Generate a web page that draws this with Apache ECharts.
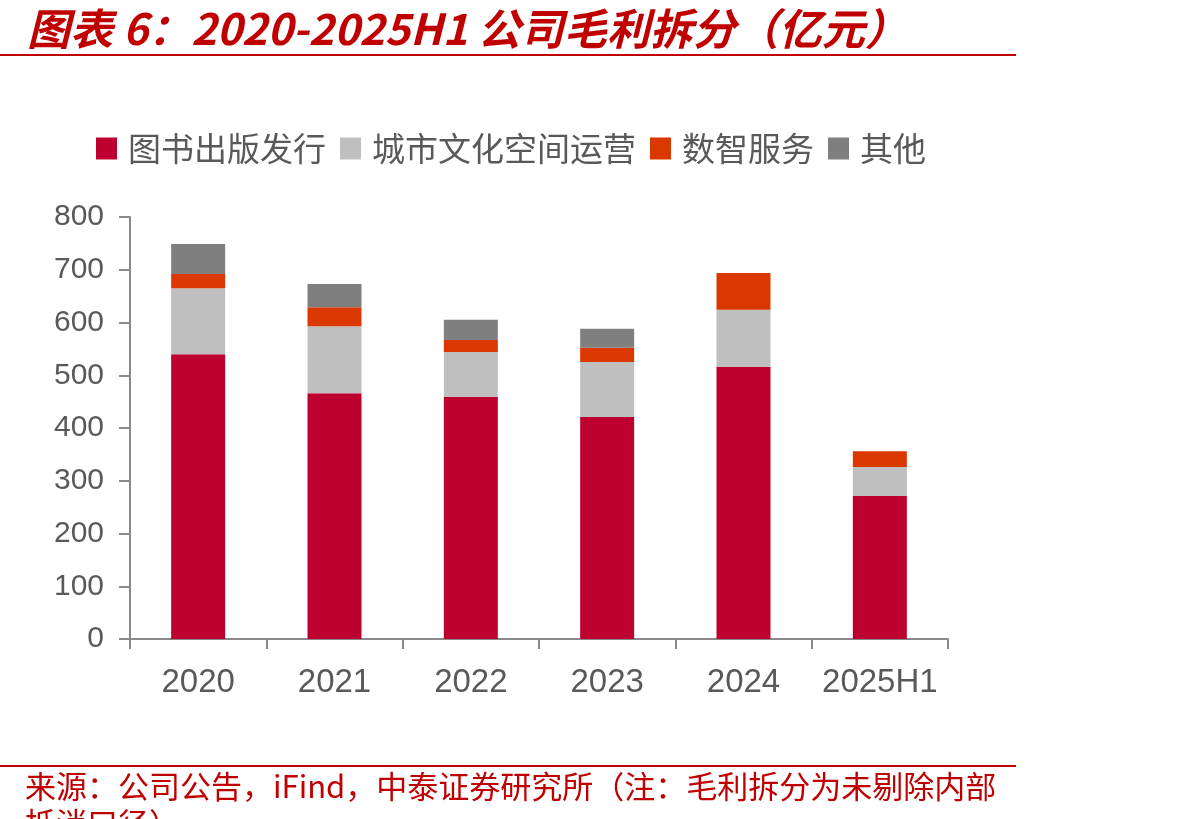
<!DOCTYPE html>
<html>
<head>
<meta charset="utf-8">
<script src="https://cdn.jsdelivr.net/npm/echarts@6/dist/echarts.min.js"></script>
<style>
html,body{margin:0;padding:0;background:#fff;}
#chart{width:1192px;height:819px;}
</style>
</head>
<body>
<div id="chart"></div>
<script>
const categories = ['2020', '2021', '2022', '2023', '2024', '2025H1'];
const seriesNames = ['图书出版发行', '城市文化空间运营', '数智服务', '其他'];
const publishing = [540, 466, 459, 421, 516, 271];
const cityCulture = [125, 127, 85, 104, 108, 55];
const digital = [27, 36, 23, 27, 70, 30];
const others = [57, 44, 38, 36, 0, 0];
const yTicks = { min: 0, max: 800, interval: 100 };

const titleText = '图表 6：2020-2025H1 公司毛利拆分（亿元）';
const sourceLine1 = '来源：公司公告，iFind，中泰证券研究所（注：毛利拆分为未剔除内部';
const sourceLine2 = '抵消口径）';

const colors = ['#be0030', '#bfbfbf', '#db3800', '#7f7f7f'];
const cjk = '"Noto Sans CJK SC", "Noto Sans", sans-serif';
const latin = '"Liberation Sans", Arial, sans-serif';
const axisColor = '#8a8a8a';
const labelColor = '#595959';
const red = '#c00000';

const dataSets = [publishing, cityCulture, digital, others];

const chart = echarts.init(document.getElementById('chart'), null, { renderer: 'canvas' });

chart.setOption({
  backgroundColor: '#ffffff',
  animation: false,
  color: colors,
  legend: {
    left: 91,
    top: 127,
    itemWidth: 21,
    itemHeight: 22,
    itemGap: 14,
    icon: 'rect',
    textStyle: { fontFamily: cjk, fontSize: 33, color: labelColor, padding: [0, 0, 0, 6] },
    data: seriesNames
  },
  grid: { left: 130, right: 244, top: 217, bottom: 180, containLabel: false },
  xAxis: {
    type: 'category',
    data: categories,
    boundaryGap: true,
    axisLine: { lineStyle: { color: axisColor, width: 2 } },
    axisTick: { show: true, interval: 0, alignWithLabel: false, length: 10, lineStyle: { color: axisColor, width: 2 } },
    axisLabel: { interval: 0, fontFamily: latin, fontSize: 33, color: labelColor, margin: 27 }
  },
  yAxis: {
    type: 'value',
    min: yTicks.min,
    max: yTicks.max,
    interval: yTicks.interval,
    splitLine: { show: false },
    axisLine: { show: true, lineStyle: { color: axisColor, width: 2 } },
    axisTick: { show: true, length: 11, lineStyle: { color: axisColor, width: 2 } },
    axisLabel: { fontFamily: latin, fontSize: 30, color: labelColor, margin: 26 }
  },
  series: seriesNames.map((name, i) => ({
    name: name,
    type: 'bar',
    stack: 'total',
    barWidth: 54,
    data: dataSets[i],
    itemStyle: { color: colors[i] }
  })),
  graphic: [
    {
      type: 'text', left: 27, top: 7,
      style: { text: titleText, fontFamily: cjk, fontSize: 43, fontWeight: 'bold', fontStyle: 'italic', fill: red }
    },
    {
      type: 'rect', shape: { x: 0, y: 54, width: 1016, height: 2 }, style: { fill: red }
    },
    {
      type: 'rect', shape: { x: 0, y: 765, width: 1016, height: 2 }, style: { fill: red }
    },
    {
      type: 'text', left: 25, top: 771,
      style: { text: sourceLine1, fontFamily: cjk, fontSize: 31, fill: red }
    },
    {
      type: 'text', left: 25, top: 808,
      style: { text: sourceLine2, fontFamily: cjk, fontSize: 31, fill: red }
    }
  ]
});
</script>
</body>
</html>
